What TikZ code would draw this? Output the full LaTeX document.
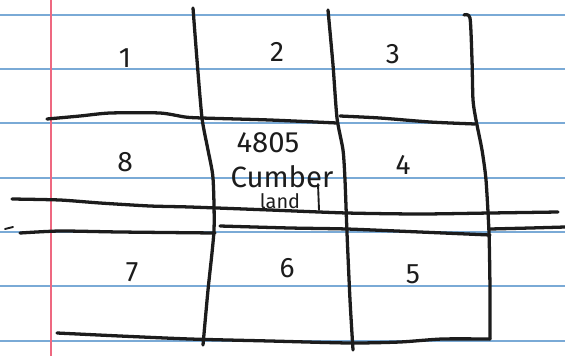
\documentclass[tikz,border=0pt]{standalone}
\usepackage{fontspec}
\setmainfont{Fira Sans}
\usepackage{xcolor}
\usetikzlibrary{positioning}
\definecolor{ruleBlue}{RGB}{122,170,214}
\definecolor{marginRed}{RGB}{238,104,128}
\definecolor{inkBlack}{RGB}{28,28,28}
\tikzset{
    ruleline/.style={
        draw=ruleBlue,
        line width=1.1pt
    },
    marginline/.style={
        draw=marginRed,
        line width=1.1pt
    },
    inkline/.style={
        draw=inkBlack,
        line width=2.8pt,
        line cap=round,
        line join=round
    },
    penstroke/.style={draw=inkBlack, line width=1.6pt, line cap=round},
    lotlabel/.style={inner sep=0pt, text=inkBlack, font=\fontsize{24}{26}\selectfont},
    addrlabel/.style={inner sep=0pt, text=inkBlack, font=\fontsize{25}{27}\selectfont}
}

\begin{document}
\begin{tikzpicture}[x=0.03cm, y=-0.03cm]
        \useasboundingbox (0,0) rectangle (565,356);
        % ruled paper
        \foreach \ry in {15,69,123,178,232,286,341}
            \draw[ruleline] (0,\ry) -- (565,\ry);
        \draw[marginline] (51,0) -- (51,356);
        % vertical strokes
        \draw[inkline] plot[smooth, tension=0.4] coordinates {(193,8) (197,60) (202,118) (208,150) (213,178) (214,230) (208,290) (203,345)};
        \draw[inkline] plot[smooth, tension=0.4] coordinates {(328,10) (333,65) (337,118) (343,150) (345,180) (347,233) (350,300) (353,350)};
        \draw[inkline] plot[smooth, tension=0.4] coordinates {(464,15) (470,18) (472,60) (473,100) (476,120) (482,150) (486,180) (489,233) (490,290) (490,339)};
        % horizontal strokes
        \draw[inkline] plot[smooth, tension=0.4] coordinates {(47,119) (80,116) (110,113) (160,113) (185,117) (202,118) (270,120) (337,123)};
        \draw[inkline] plot[smooth, tension=0.4] coordinates {(340,116) (380,118) (430,122) (475,124)};
        \draw[inkline] plot[smooth, tension=0.4] coordinates {(12,199) (60,200) (100,203) (150,206) (190,207) (270,210) (347,213) (420,214) (490,213) (558,212)};
        \draw[penstroke] (5,229) -- (13,227);
        \draw[inkline] plot[smooth, tension=0.4] coordinates {(20,233) (60,231) (120,232) (215,233)};
        \draw[inkline] plot[smooth, tension=0.4] coordinates {(220,226) (290,228) (347,229) (420,232) (490,235)};
        \draw[inkline] plot[smooth, tension=0.4] coordinates {(490,229) (530,228) (565,227)};
        \draw[inkline] plot[smooth, tension=0.4] coordinates {(57,333) (120,336) (190,339) (270,341) (350,343) (400,342) (442,339) (490,339)};
        % lot numbers
        \foreach \num/\lx/\ly in {1/125/58, 2/277/52, 3/393/54, 4/403/165, 5/413/274, 6/287/268, 7/132/272, 8/125/162}
            \node[lotlabel] (lot\num) at (\lx,\ly) {\num};
        % address
        \node[addrlabel] (addr) at (268,143) {4805};
        \node[addrlabel] (street) at (282,177) {Cumber};
        \node[addrlabel, font=\fontsize{17}{19}\selectfont] (streetend) at (280,201) {land};
        \draw[penstroke] (318,184) -- (319,210);
    \end{tikzpicture}
\end{document}
